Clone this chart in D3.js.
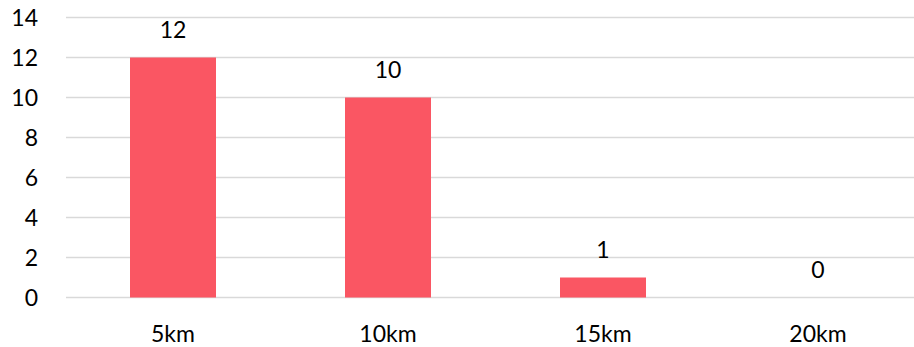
<!DOCTYPE html>
<html>
<head>
<meta charset="utf-8">
<script src="https://cdn.jsdelivr.net/npm/d3@7"></script>
<style>
  html, body { margin: 0; padding: 0; background: #fff; }
  svg { display: block; }
  text { font-family: Lato, "Open Sans", sans-serif; fill: #000; }
</style>
</head>
<body>
<svg id="chart" width="914" height="347"></svg>
<script>
// Distance categories and counts
const categories = ["5km", "10km", "15km", "20km"];
const counts = [12, 10, 1, 0];
const yTicks = [0, 2, 4, 6, 8, 10, 12, 14];

const svg = d3.select("#chart");
const fontSize = 23;

const x = d3.scaleBand()
  .domain(categories)
  .range([65.5, 925.5])
  .paddingInner(0.6)
  .paddingOuter(0.3);

const y = d3.scaleLinear()
  .domain([0, 14])
  .range([297.5, 17.5]);

// Horizontal gridlines
svg.append("g")
  .selectAll("line")
  .data(yTicks)
  .join("line")
  .attr("x1", 66)
  .attr("x2", 914)
  .attr("y1", d => y(d))
  .attr("y2", d => y(d))
  .attr("stroke", "#d9d9d9")
  .attr("stroke-width", 1.5);

// Y-axis labels
svg.append("g")
  .selectAll("text")
  .data(yTicks)
  .join("text")
  .attr("x", 38)
  .attr("y", d => y(d) + 8.2)
  .attr("text-anchor", "end")
  .attr("font-size", fontSize)
  .text(d => d);

// Bars
svg.append("g")
  .selectAll("rect")
  .data(categories)
  .join("rect")
  .attr("x", d => x(d))
  .attr("width", x.bandwidth())
  .attr("y", (d, i) => y(counts[i]))
  .attr("height", (d, i) => y(0) - y(counts[i]))
  .attr("fill", "#fa5663");

// Value labels
svg.append("g")
  .selectAll("text")
  .data(categories)
  .join("text")
  .attr("x", d => x(d) + x.bandwidth() / 2)
  .attr("y", (d, i) => y(counts[i]) - 19.8)
  .attr("text-anchor", "middle")
  .attr("font-size", fontSize)
  .text((d, i) => counts[i]);

// Category labels
svg.append("g")
  .selectAll("text")
  .data(categories)
  .join("text")
  .attr("x", d => x(d) + x.bandwidth() / 2)
  .attr("y", 341.5)
  .attr("text-anchor", "middle")
  .attr("font-size", fontSize)
  .text(d => d);
</script>
</body>
</html>
